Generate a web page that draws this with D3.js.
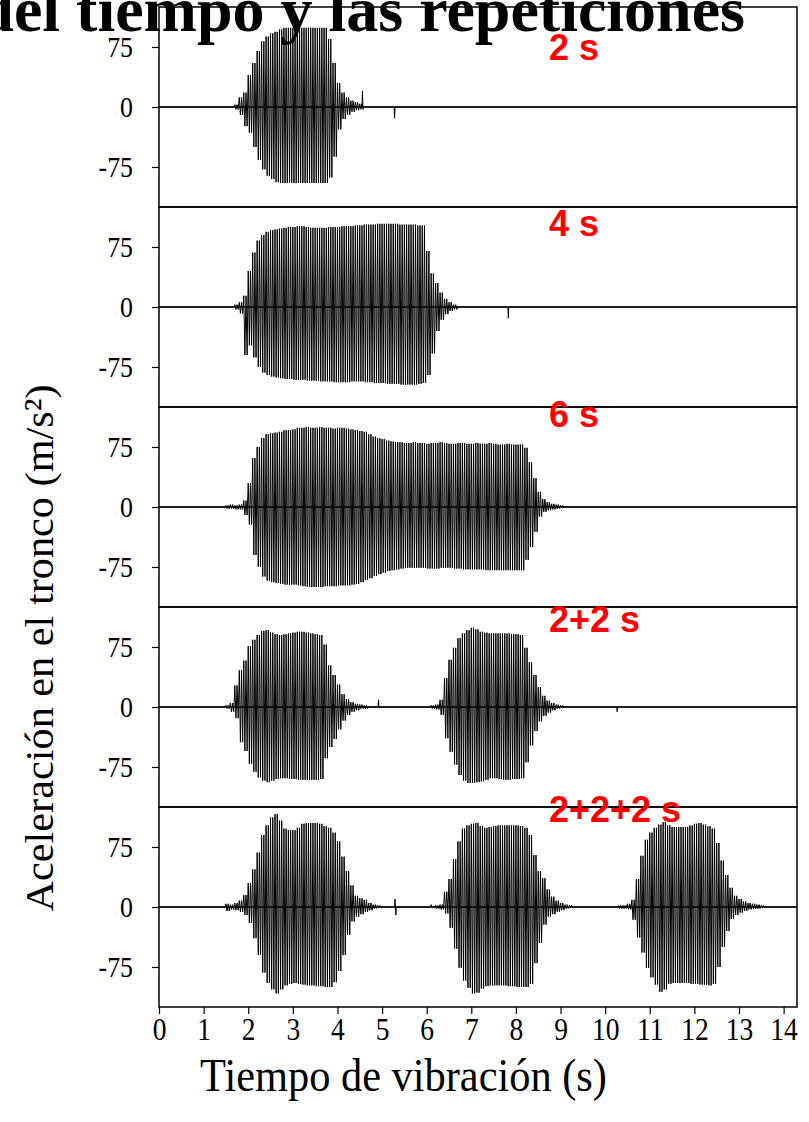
<!DOCTYPE html>
<html>
<head>
<meta charset="utf-8">
<script src="https://cdnjs.cloudflare.com/ajax/libs/d3/7.8.5/d3.min.js"></script>
<style>
body { margin: 0; background: #fff; }
svg { display: block; }
</style>
</head>
<body>
<div class="chart"></div>
<script>
// peak accelerations (m/s2), one up/down pair per 0.1 s
const p1Start = 1.7;
const p1Up = [3,12,18,40,55,70,82,88,92,94,97,99,99,99,99,99,99,99,99,99,99,85,55,30,18,12,8,6,4];
const p1Dn = [-3,-10,-24,-32,-50,-66,-78,-86,-90,-94,-95,-95,-95,-95,-95,-95,-95,-95,-95,-95,-95,-88,-62,-28,-15,-10,-6,-4,-3];
const p1Spikes = [[4.56, 20], [5.28, -14]];

const p2Start = 1.7;
const p2Up = [3,6,14,45,68,83,90,94,96,97,98,99,
    100,100,101,101,100,99,99,99,99,100,100,100,101,101,101,102,102,103,103,103,104,104,104,104,104,103,103,103,103,102,102,
    70,42,30,18,10,6,3];
const p2Dn = [-3,-8,-60,-48,-63,-75,-82,-85,-87,-88,-89,-90,
    -90,-91,-91,-91,-92,-92,-92,-93,-93,-93,-94,-94,-94,-94,-93,-93,-93,-94,-94,-95,-95,-95,-96,-96,-96,-97,-97,-97,-97,-96,-95,
    -85,-58,-30,-16,-9,-5,-3];
const p2Spikes = [[7.83, -14]];

const p3Start = 1.5;
const p3Up = [2,3,2,3,8,30,61,75,86,91,92,93,94,96,96,97,
    99,99,100,99,99,100,99,99,98,99,99,
    98,97,96,95,94,91,88,86,85,83,82,81,
    81,80,80,81,80,80,79,80,80,81,80,79,79,80,80,79,79,80,79,79,80,79,78,78,79,78,78,78,
    74,56,36,19,10,6,4,3,2];
const p3Dn = [-2,-2,-3,-3,-10,-22,-60,-75,-87,-92,-94,-95,-96,-97,-97,-97,
    -98,-99,-100,-100,-100,-100,-99,-99,-99,-98,-98,
    -98,-97,-96,-94,-91,-89,-86,-84,-82,-80,-79,-78,
    -77,-76,-76,-76,-76,-76,-77,-77,-77,-76,-76,-76,-77,-77,-78,-78,-78,-78,-78,-79,-79,-79,-79,-79,-79,-79,-79,-79,
    -66,-50,-31,-12,-6,-4,-3,-2,-1];
const p3Spikes = [];

const p4aStart = 1.5;
const p4aUp = [2,5,27,46,58,76,84,90,95,96,93,91,90,91,92,93,94,94,93,92,91,90,78,52,40,28,16,10,6,4,3,2];
const p4aDn = [-2,-6,-14,-44,-55,-71,-81,-88,-92,-94,-92,-90,-89,-89,-90,-90,-91,-91,-91,-91,-91,-90,-64,-50,-40,-28,-17,-10,-6,-4,-2,-2];
const p4bStart = 6.1;
const p4bUp = [2,3,9,36,59,74,86,92,96,99,97,94,93,92,92,92,92,92,91,91,90,74,56,40,25,14,8,5,3,2];
const p4bDn = [-2,-3,-10,-39,-56,-72,-85,-92,-95,-95,-94,-93,-91,-89,-89,-90,-91,-91,-90,-90,-89,-69,-48,-30,-18,-11,-7,-4,-2,-1];
const p4Spikes = [[4.92, 9], [10.27, -6]];

const p5aStart = 1.5;
const p5aUp = [4,3,5,8,15,30,47,68,90,102,112,116,108,98,96,96,99,104,105,105,105,104,101,99,93,82,63,45,27,14,11,9,5,3,2];
const p5aDn = [-5,-3,-4,-6,-10,-20,-39,-60,-82,-95,-103,-108,-103,-98,-96,-95,-96,-97,-98,-98,-99,-99,-100,-100,-94,-80,-60,-35,-18,-12,-9,-6,-4,-2,-1];
const p5bStart = 6.2;
const p5bUp = [2,3,19,35,60,82,98,102,104,105,101,99,100,101,102,102,102,102,102,101,99,90,65,45,36,22,13,8,5,3,2];
const p5bDn = [-2,-3,-8,-26,-52,-76,-92,-101,-108,-107,-102,-99,-98,-98,-98,-98,-99,-99,-100,-100,-100,-96,-70,-45,-22,-12,-9,-6,-4,-2,-1];
const p5cStart = 10.3;
const p5cUp = [2,2,4,9,35,64,84,93,99,103,106,102,100,100,100,100,102,104,105,103,101,98,80,58,40,24,14,10,7,5,4,3,2,1];
const p5cDn = [-2,-2,-3,-16,-38,-57,-76,-88,-97,-106,-103,-96,-95,-95,-95,-95,-96,-96,-97,-97,-98,-96,-75,-50,-30,-15,-10,-7,-5,-3,-2,-2,-1,-1];
const p5Spikes = [[5.29, 10], [5.31, -10], [6.1, 3]];

const panelLabels = ["2 s", "4 s", "6 s", "2+2 s", "2+2+2 s"];
const yTickValues = [-75, 0, 75];
const xTickValues = [0, 1, 2, 3, 4, 5, 6, 7, 8, 9, 10, 11, 12, 13, 14];

class VibrationChart
{
    constructor(panels)
    {
        this.panels = panels;
        this.width = 809;
        this.height = 1122;
        this.left = 159;
        this.right = 797;
        this.top = 7;
        this.panelH = 200;
        this.step = 0.1;
        this.tMax = 14.3;
        this.x = d3.scaleLinear().domain([0, this.tMax]).range([this.left, this.right]);
    }

    // zigzag between the read peaks: two cycles per 0.1 s sample
    tracePoints(panel)
    {
        let step = this.step;
        let events = [];
        panel.bursts.forEach(b => {
            let seg = [[b.start - 0.02, 0]];
            b.up.forEach((u, i) => {
                let t = b.start + i * step;
                seg.push([t, u], [t + step / 4, b.dn[i]], [t + step / 2, u], [t + 3 * step / 4, b.dn[i]]);
            });
            seg.push([b.start + b.up.length * step, 0]);
            events.push(seg);
        });
        panel.spikes.forEach(s => events.push([[s[0] - 0.01, 0], [s[0], s[1]], [s[0] + 0.01, 0]]));
        events.sort((a, b) => a[0][0] - b[0][0]);

        let pts = [[0, 0]];
        events.forEach(e => pts.push(...e));
        pts.push([this.tMax, 0]);
        return pts;
    }

    draw()
    {
        let svg = d3.select(".chart").append("svg")
            .attr("width", this.width)
            .attr("height", this.height);

        let serif = "'Liberation Serif', 'Times New Roman', serif";
        let labelBase = [60, 236, 427, 632, 822];
        let squeeze = 0.86; // the tick digits are tall and narrow in the original

        this.panels.forEach((panel, i) => {
            let top = this.top + i * this.panelH;
            let y = d3.scaleLinear().domain([-125, 125]).range([top + this.panelH, top]);

            svg.append("rect")
                .attr("x", this.left)
                .attr("y", top)
                .attr("width", this.right - this.left)
                .attr("height", this.panelH)
                .attr("fill", "none")
                .attr("stroke", "#000")
                .attr("stroke-width", 1.5);

            // resting level of the trace, drawn a bit heavier like the original
            svg.append("line")
                .attr("x1", this.x(0))
                .attr("x2", this.x(this.tMax))
                .attr("y1", y(0))
                .attr("y2", y(0))
                .attr("stroke", "#000")
                .attr("stroke-width", 1.6);

            let line = d3.line()
                .x(d => this.x(d[0]))
                .y(d => y(d[1]));

            svg.append("path")
                .datum(this.tracePoints(panel))
                .attr("d", line)
                .attr("fill", "none")
                .attr("stroke", "#000")
                .attr("stroke-width", 1);

            let yAxis = svg.append("g")
                .attr("transform", `translate(${this.left},0)`)
                .call(d3.axisLeft(y).tickValues(yTickValues).tickSize(7).tickFormat(d => String(d)));
            yAxis.select(".domain").remove();
            yAxis.selectAll("line").attr("stroke-width", 1.2);
            yAxis.selectAll("text")
                .attr("x", -26 / squeeze)
                .attr("transform", `scale(${squeeze},1)`)
                .attr("font-family", serif)
                .attr("font-size", 30)
                .attr("fill", "#000");

            svg.append("text")
                .attr("x", 549)
                .attr("y", labelBase[i])
                .attr("font-family", "'Liberation Sans', Arial, sans-serif")
                .attr("font-weight", "bold")
                .attr("font-size", 36)
                .attr("fill", "#ff0000")
                .text(panel.label);
        });

        let bottom = this.top + this.panels.length * this.panelH;
        let xAxis = svg.append("g")
            .attr("transform", `translate(0,${bottom})`)
            .call(d3.axisBottom(this.x).tickValues(xTickValues).tickSize(7).tickFormat(d => String(d)));
        xAxis.select(".domain").remove();
        xAxis.selectAll("line").attr("stroke-width", 1.2);
        xAxis.selectAll("text")
            .attr("y", 33)
            .attr("dy", 0)
            .attr("transform", `scale(${squeeze},1)`)
            .attr("font-family", serif)
            .attr("font-size", 32)
            .attr("fill", "#000");

        svg.append("text")
            .attr("x", 200)
            .attr("y", 1091)
            .attr("font-family", serif)
            .attr("font-size", 46)
            .attr("textLength", 407)
            .attr("lengthAdjust", "spacingAndGlyphs")
            .text("Tiempo de vibración (s)");

        svg.append("text")
            .attr("transform", "translate(53,648) rotate(-90)")
            .attr("text-anchor", "middle")
            .attr("font-family", serif)
            .attr("font-size", 41)
            .attr("textLength", 527)
            .attr("lengthAdjust", "spacingAndGlyphs")
            .text("Aceleración en el tronco (m/s²)");

        // slide title, cut at the top of the picture
        svg.append("text")
            .attr("x", 745)
            .attr("y", 31)
            .attr("text-anchor", "end")
            .attr("font-family", serif)
            .attr("font-weight", "bold")
            .attr("font-size", 64)
            .text("del tiempo y las repeticiones");
    }
}

let panels = [
    { label: panelLabels[0], bursts: [{ start: p1Start, up: p1Up, dn: p1Dn }], spikes: p1Spikes },
    { label: panelLabels[1], bursts: [{ start: p2Start, up: p2Up, dn: p2Dn }], spikes: p2Spikes },
    { label: panelLabels[2], bursts: [{ start: p3Start, up: p3Up, dn: p3Dn }], spikes: p3Spikes },
    { label: panelLabels[3], bursts: [{ start: p4aStart, up: p4aUp, dn: p4aDn }, { start: p4bStart, up: p4bUp, dn: p4bDn }], spikes: p4Spikes },
    { label: panelLabels[4], bursts: [{ start: p5aStart, up: p5aUp, dn: p5aDn }, { start: p5bStart, up: p5bUp, dn: p5bDn }, { start: p5cStart, up: p5cUp, dn: p5cDn }], spikes: p5Spikes }
];

let chart = new VibrationChart(panels);
chart.draw();
</script>
</body>
</html>
